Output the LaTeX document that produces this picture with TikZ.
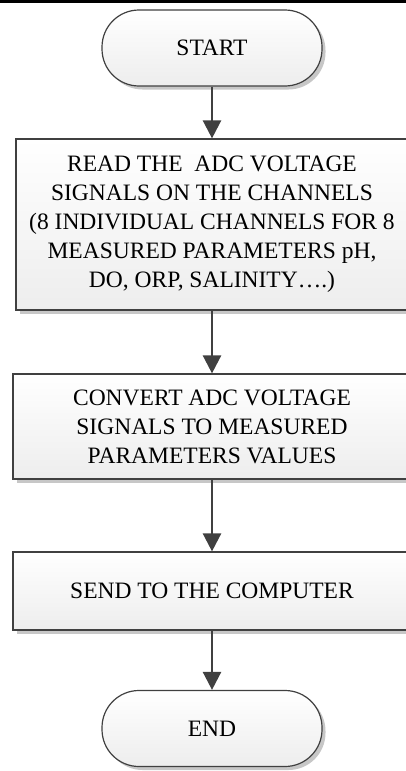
\documentclass[tikz,border=0pt]{standalone}
\usepackage{fontspec}
\setmainfont{Liberation Serif}
\usetikzlibrary{arrows.meta,shadows}

\tikzset{
  boxshadow/.style={drop shadow={shadow xshift=3.5pt,shadow yshift=-3.5pt,fill=black!22,opacity=1}},
  terminal/.style={draw=black!75,line width=1.2pt,rounded corners=37pt,
    minimum width=220pt,minimum height=76pt,boxshadow,
    top color=white,bottom color=black!7,font=\fontsize{23.5}{29}\selectfont},
  process/.style={draw=black!75,line width=1.2pt,boxshadow,
    top color=white,bottom color=black!7,align=center,
    font=\fontsize{23.5}{29}\selectfont},
  flowarrow/.style={draw=black!75,line width=2.5pt,
    -{Triangle[width=18pt,length=18pt]}}
}

\begin{document}
\begin{tikzpicture}[x=1pt,y=-1pt]
			\useasboundingbox (0,0) rectangle (406,771);
			% rule across the top
			\fill[black] (0,0) rectangle (406,3);
			\node[terminal] (start) at (212,48) {START};
			\node[process,minimum width=392pt,minimum height=171pt] (read) at (212,224.5)
				{READ THE~ ADC VOLTAGE\\SIGNALS ON THE CHANNELS\\(8 INDIVIDUAL CHANNELS FOR 8\\MEASURED PARAMETERS pH,\\DO, ORP, SALINITY….)};
			\node[process,minimum width=398pt,minimum height=105pt] (convert) at (212,426.5)
				{CONVERT ADC VOLTAGE\\SIGNALS TO MEASURED\\PARAMETERS VALUES};
			\node[process,minimum width=398pt,minimum height=78pt] (send) at (212,591)
				{SEND TO THE COMPUTER};
			\node[terminal] (stop) at (212,728.5) {END};
			\foreach \a/\b in {start/read,read/convert,convert/send,send/stop}
				\draw[flowarrow] (\a) -- (\b);
		\end{tikzpicture}
\end{document}
